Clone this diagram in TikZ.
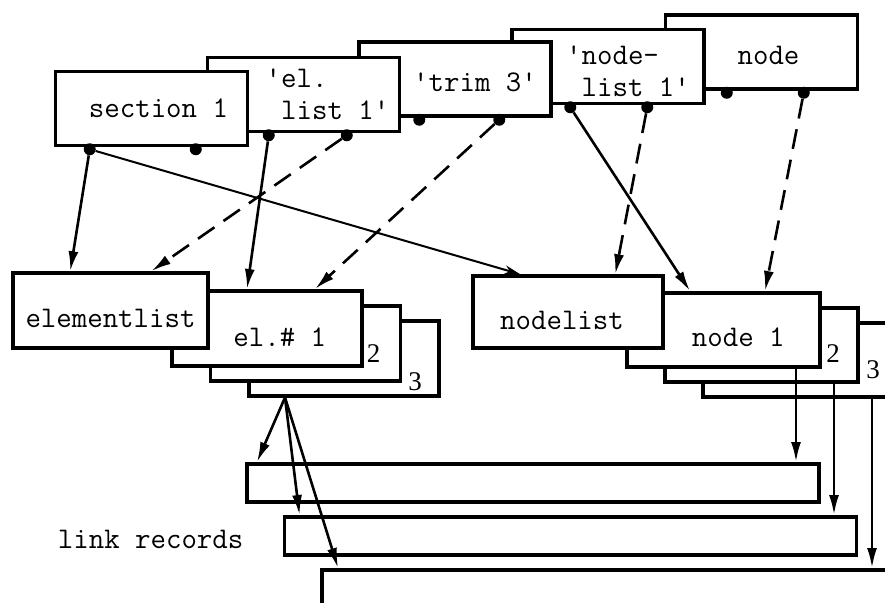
\documentclass[tikz,border=0pt]{standalone}
\usepackage{fontspec}
\setmainfont{Liberation Serif}
\usetikzlibrary{positioning,arrows.meta}

\begin{document}
\begin{tikzpicture}[x=1pt,y=-1pt]
  \tikzstyle{recBox} = [rectangle, draw, line width=3.5pt, fill=white, inner sep=0pt]
  \tikzstyle{topBox} = [recBox, minimum width=192pt, minimum height=74pt]
  \tikzstyle{boxText} = [inner sep=0pt, font=\ttfamily\fontsize{30}{32}\selectfont, align=left]
  \tikzstyle{countText} = [inner sep=0pt, font=\fontsize{27}{30}\selectfont]
  \tikzstyle{ptrDot} = [circle, fill, inner sep=0pt, minimum size=12pt]
  \tikzstyle{ptr} = [line width=2.6pt, -{Latex[length=20pt,width=10pt]}]
  \tikzstyle{openPtr} = [line width=2pt, -{Stealth[open,length=16pt,width=9pt]}]
  \tikzstyle{dashPtr} = [ptr, dash pattern=on 20pt off 11pt]

  \useasboundingbox (0,0) rectangle (885,602);
  \clip (0,0) rectangle (885,602);

  % Named records, back to front
  \node[topBox] (nodeRec) at (761.5, 52) {};
  \node[topBox] (nlstRec) at (608, 66.5) {};
  \node[topBox] (trimRec) at (455, 79) {};
  \node[topBox] (elstRec) at (303.5, 94.5) {};
  \node[topBox] (secRec) at (151.5, 108.5) {};

  \node[boxText] (nodeTxt) at ([xshift=7pt, yshift=-3pt]nodeRec.center) {node};
  \node[boxText] (nlstTxt) at ([xshift=20pt, yshift=-5pt]nlstRec.center) {'node-\\\phantom{'}list 1'};
  \node[boxText] (trimTxt) at ([xshift=20pt, yshift=-3pt]trimRec.center) {'trim 3'};
  \node[boxText] (elstTxt) at ([xshift=24pt]elstRec.center) {'el.\\\phantom{'}list 1'};
  \node[boxText] (secTxt) at ([xshift=7pt]secRec.center) {section 1};

  % Element records
  \foreach \i in {3,2,1}
    \node[recBox, minimum width=190pt, minimum height=75pt, anchor=north west] (el\i) at (170+38.5*\i-38.5, 289+15*\i-15) {};
  \node[recBox, minimum width=195pt, minimum height=75pt] (elemList) at (110.5, 310.5) {};
  \node[boxText] (elemTxt) at ([yshift=-8pt]elemList.center) {elementlist};
  \node[boxText] (elTxt) at ([xshift=13pt, yshift=-9pt]el1.center) {el.\# 1};
  \node[countText] (elNum2) at (373.5, 354) {2};
  \node[countText] (elNum3) at (415, 382) {3};

  % Node records
  \foreach \i in {3,2,1}
    \node[recBox, minimum width=193pt, minimum height=74pt, anchor=north west] (nd\i) at (625+38*\i-38, 291+15*\i-15) {};
  \node[recBox, minimum width=190pt, minimum height=72pt] (nodeList) at (568, 312) {};
  \node[boxText] (nlTxt) at ([xshift=-6pt, yshift=-8pt]nodeList.center) {nodelist};
  \node[boxText] (ndTxt) at ([xshift=15pt, yshift=-7pt]nd1.center) {node 1};
  \node[countText] (ndNum2) at (833, 354) {2};
  \node[countText] (ndNum3) at (873, 370) {3};

  % Link records
  \foreach \i in {1,2,3}
    \node[recBox, minimum width=572pt, minimum height=38pt, anchor=north west] (rec\i) at (245+37.5*\i-37.5, 462+53*\i-53) {};
  \node[boxText, left=39pt of rec2, yshift=-4pt] (recTxt) {link records};

  % Pointer fields
  \foreach \r/\a/\b in {secRec/36pt/142pt, elstRec/63pt/141pt, trimRec/62pt/142pt, nlstRec/60pt/137pt, nodeRec/63pt/140pt}
  {
    \node[ptrDot] (\r-a) at ([xshift=\a, yshift=-2pt]\r.south west) {};
    \node[ptrDot] (\r-b) at ([xshift=\b, yshift=-2pt]\r.south west) {};
  }

  % Pointers from the named records
  \draw[ptr] (secRec-a) -- ([xshift=59pt]elemList.north west);
  \draw[openPtr] (secRec-a) -- ([xshift=49pt]nodeList.north west);
  \draw[ptr] (elstRec-a) -- ([xshift=77pt]el1.north west);
  \draw[dashPtr] (elstRec-b) -- ([xshift=140pt]elemList.north west);
  \draw[dashPtr] (trimRec-b) -- ([xshift=145pt]el1.north west);
  \draw[ptr] (nlstRec-a) -- ([xshift=65pt]nd1.north west);
  \draw[dashPtr] (nlstRec-b) -- ([xshift=144pt]nodeList.north west);
  \draw[dashPtr] (nodeRec-b) -- ([xshift=140pt]nd1.north west);

  % Pointers to the link records
  \coordinate (elOut) at ([xshift=38pt]el3.south west);
  \foreach \i/\s in {1/12pt, 2/17pt, 3/18pt}
    \draw[ptr] (elOut) -- ([xshift=\s]rec\i.north west);
  \foreach \i in {1,2,3}
  {
    \coordinate (ndOut\i) at ([xshift=171pt]nd\i.south west);
    \draw[ptr] (ndOut\i) -- (ndOut\i |- rec\i.north);
  }

\end{tikzpicture}
\end{document}
